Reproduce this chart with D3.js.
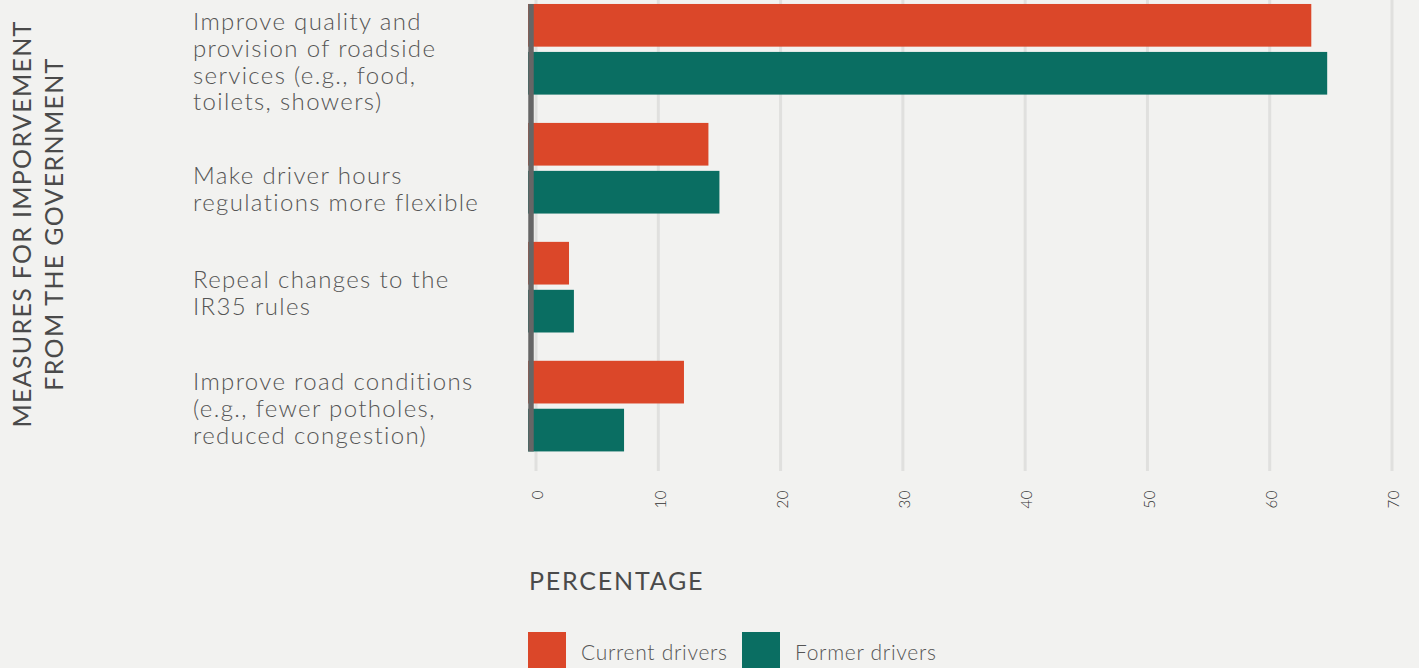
<!DOCTYPE html>
<html>
<head>
<meta charset="utf-8">
<script src="https://cdn.jsdelivr.net/npm/d3@7"></script>
<style>
  html, body { margin: 0; padding: 0; background: #f2f2f0; }
  svg { display: block; }
</style>
</head>
<body>
<svg id="chart" width="1419" height="668"></svg>
<script>
// ---- data ----
const categories = [
  "Improve quality and provision of roadside services (e.g., food, toilets, showers)",
  "Make driver hours regulations more flexible",
  "Repeal changes to the IR35 rules",
  "Improve road conditions (e.g., fewer potholes, reduced congestion)"
];
const categoryLines = [
  ["Improve quality and", "provision of roadside", "services (e.g., food,", "toilets, showers)"],
  ["Make driver hours", "regulations more flexible"],
  ["Repeal changes to the", "IR35 rules"],
  ["Improve road conditions", "(e.g., fewer potholes,", "reduced congestion)"]
];
const seriesNames = ["Current drivers", "Former drivers"];
const currentDrivers = [63.4, 14.1, 2.7, 12.1];
const formerDrivers = [64.7, 15.0, 3.1, 7.2];
const tickValues = [0, 10, 20, 30, 40, 50, 60, 70];
const xTitle = "PERCENTAGE";
const yTitleLines = ["MEASURES FOR IMPORVEMENT", "FROM THE GOVERNMENT"];

// ---- style / layout ----
const colors = { "Current drivers": "#db4729", "Former drivers": "#0a6e62" };
const bg = "#f2f2f0";
const textColor = "#555555";
const font = "Lato, 'Open Sans', sans-serif";
const labelNudge = [-19, 16, 1, -16]; // first-line baseline offset from band centre

const svg = d3.select("#chart");
svg.append("rect").attr("width", 1419).attr("height", 668).attr("fill", bg);

const plotLeft = 528;
const x = d3.scaleLinear().domain([0, 70]).range([536, 1392]);
const y = d3.scaleBand().domain(categories).range([-10.3, 465.7])
  .paddingInner(0.238).paddingOuter(0.12);
const ySub = d3.scaleBand().domain(seriesNames).range([0, y.bandwidth()]).paddingInner(0.11);

// gridlines
svg.append("g").selectAll("line").data(tickValues).join("line")
  .attr("x1", d => x(d)).attr("x2", d => x(d))
  .attr("y1", 0).attr("y2", 471)
  .attr("stroke", "#e0e0de").attr("stroke-width", 3);

// bars
const rows = categories.map((c, i) => ({ cat: c, values: [
  { s: seriesNames[0], v: currentDrivers[i] },
  { s: seriesNames[1], v: formerDrivers[i] }
]}));
const grp = svg.append("g").selectAll("g").data(rows).join("g")
  .attr("transform", d => `translate(0,${y(d.cat)})`);
grp.selectAll("rect").data(d => d.values).join("rect")
  .attr("x", plotLeft)
  .attr("y", d => ySub(d.s))
  .attr("width", d => x(d.v) - plotLeft)
  .attr("height", ySub.bandwidth())
  .attr("fill", d => colors[d.s]);

// baseline
svg.append("line")
  .attr("x1", plotLeft + 3).attr("x2", plotLeft + 3)
  .attr("y1", y(categories[0])).attr("y2", y(categories[categories.length - 1]) + y.bandwidth())
  .attr("stroke", "#666666").attr("stroke-width", 5.5);

// x axis tick labels (rotated)
const xAxis = d3.axisBottom(x).tickValues(tickValues).tickSize(0).tickFormat(d3.format("d"));
const gx = svg.append("g").attr("transform", "translate(0,490)").call(xAxis);
gx.select(".domain").remove();
gx.selectAll("text")
  .attr("transform", "rotate(-90)")
  .attr("x", 0).attr("y", 0).attr("dy", "0.35em").attr("dx", 0)
  .attr("text-anchor", "end")
  .attr("font-family", font).attr("font-size", 15).attr("font-weight", 300)
  .attr("letter-spacing", 0.5)
  .attr("fill", "#333");
gx.selectAll(".tick").attr("transform", d => `translate(${x(d) + 2},0)`);

// category labels
const lab = svg.append("g").selectAll("text").data(categories).join("text")
  .attr("font-family", font).attr("font-size", 24).attr("font-weight", 300)
  .attr("letter-spacing", 1.35)
  .attr("fill", textColor);
lab.each(function(c, i) {
  const t = d3.select(this);
  const y0 = y(c) + y.bandwidth() / 2 + labelNudge[i];
  categoryLines[i].forEach((ln, j) => {
    t.append("tspan").attr("x", 193).attr("y", y0 + j * 26.7).text(ln);
  });
});

// y title
const yt = svg.append("text")
  .attr("transform", "translate(0,224) rotate(-90)")
  .attr("text-anchor", "middle")
  .attr("font-family", font).attr("font-size", 25).attr("font-weight", 400)
  .attr("letter-spacing", 1.3)
  .attr("fill", "#4a4a4a");
yTitleLines.forEach((ln, j) => {
  yt.append("tspan").attr("x", 0).attr("y", 31 + j * 32).text(ln);
});

// x title
svg.append("text").attr("x", 529).attr("y", 590)
  .attr("font-family", font).attr("font-size", 25).attr("font-weight", 400)
  .attr("letter-spacing", 1.8)
  .attr("fill", "#4a4a4a").text(xTitle);

// legend
const legend = svg.append("g").selectAll("g").data(seriesNames).join("g")
  .attr("transform", (d, i) => `translate(${528 + i * 214},632)`);
legend.append("rect").attr("width", 38).attr("height", 38).attr("fill", d => colors[d]);
legend.append("text").attr("x", 53).attr("y", 28)
  .attr("font-family", font).attr("font-size", 21).attr("font-weight", 300)
  .attr("letter-spacing", 0.7)
  .attr("fill", textColor).text(d => d);
</script>
</body>
</html>
